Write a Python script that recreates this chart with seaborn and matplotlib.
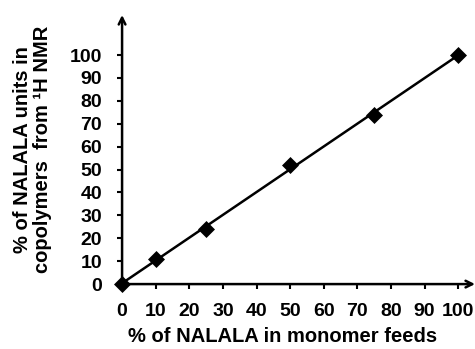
import matplotlib
matplotlib.use("Agg")
import matplotlib.pyplot as plt
import seaborn as sns
import numpy as np
import pandas as pd

feed = [0, 10, 25, 50, 75, 100]
copolymer = [0, 11, 24, 52, 74, 100]
xticks = [0, 10, 20, 30, 40, 50, 60, 70, 80, 90, 100]
yticks = [0, 10, 20, 30, 40, 50, 60, 70, 80, 90, 100]

sns.set_theme(style="white")
plt.rcParams['font.family'] = ['Liberation Sans', 'DejaVu Sans']
plt.rcParams['text.color'] = 'black'
plt.rcParams['axes.labelcolor'] = 'black'
plt.rcParams['xtick.color'] = 'black'
plt.rcParams['ytick.color'] = 'black'

df = pd.DataFrame({"feed": feed, "copolymer": copolymer})

fig = plt.figure(figsize=(4.75, 3.49), dpi=100)
ax = fig.add_axes([0.257, 0.186, 0.743, 0.771])

sns.regplot(data=df, x="feed", y="copolymer", ax=ax, ci=None, truncate=True,
            marker="D", color="black",
            scatter_kws={"s": 75, "edgecolor": "black", "linewidths": 0, "zorder": 3,
                         "alpha": 1, "clip_on": False},
            line_kws={"linewidth": 1.8, "color": "black"})

ax.set_xlim(0, 105)
ax.set_ylim(0, 117.5)
ax.set_xticks(xticks)
ax.set_yticks(yticks)
ax.set_xticklabels([str(t) for t in xticks], fontweight="bold", fontsize=14)
ax.set_yticklabels([str(t) for t in yticks], fontweight="bold", fontsize=14)

for s in ax.spines.values():
    s.set_visible(False)

ax.tick_params(axis="y", direction="out", length=3.5, width=1.5, color="black", pad=11, left=True)
ax.tick_params(axis="x", direction="out", length=3.5, width=1.5, color="black", pad=10, bottom=True)

ax.annotate("", xy=(1.0, 0), xytext=(0, 0), xycoords="axes fraction",
            arrowprops=dict(arrowstyle="->", color="black", lw=1.8, shrinkA=0, shrinkB=0))
ax.annotate("", xy=(0, 1.0), xytext=(0, 0), xycoords="axes fraction",
            arrowprops=dict(arrowstyle="->", color="black", lw=1.8, shrinkA=0, shrinkB=0))

ax.set_xlabel("% of NALALA in monomer feeds", fontweight="bold", fontsize=14.5)
ax.xaxis.set_label_coords(0.456, -0.16)
ax.set_ylabel("% of NALALA units in\ncopolymers  from ¹H NMR", fontweight="bold",
              fontsize=14.5, linespacing=1.05)
ax.yaxis.set_label_coords(-0.198, 0.5)

fig.savefig("out.png", dpi=100)
